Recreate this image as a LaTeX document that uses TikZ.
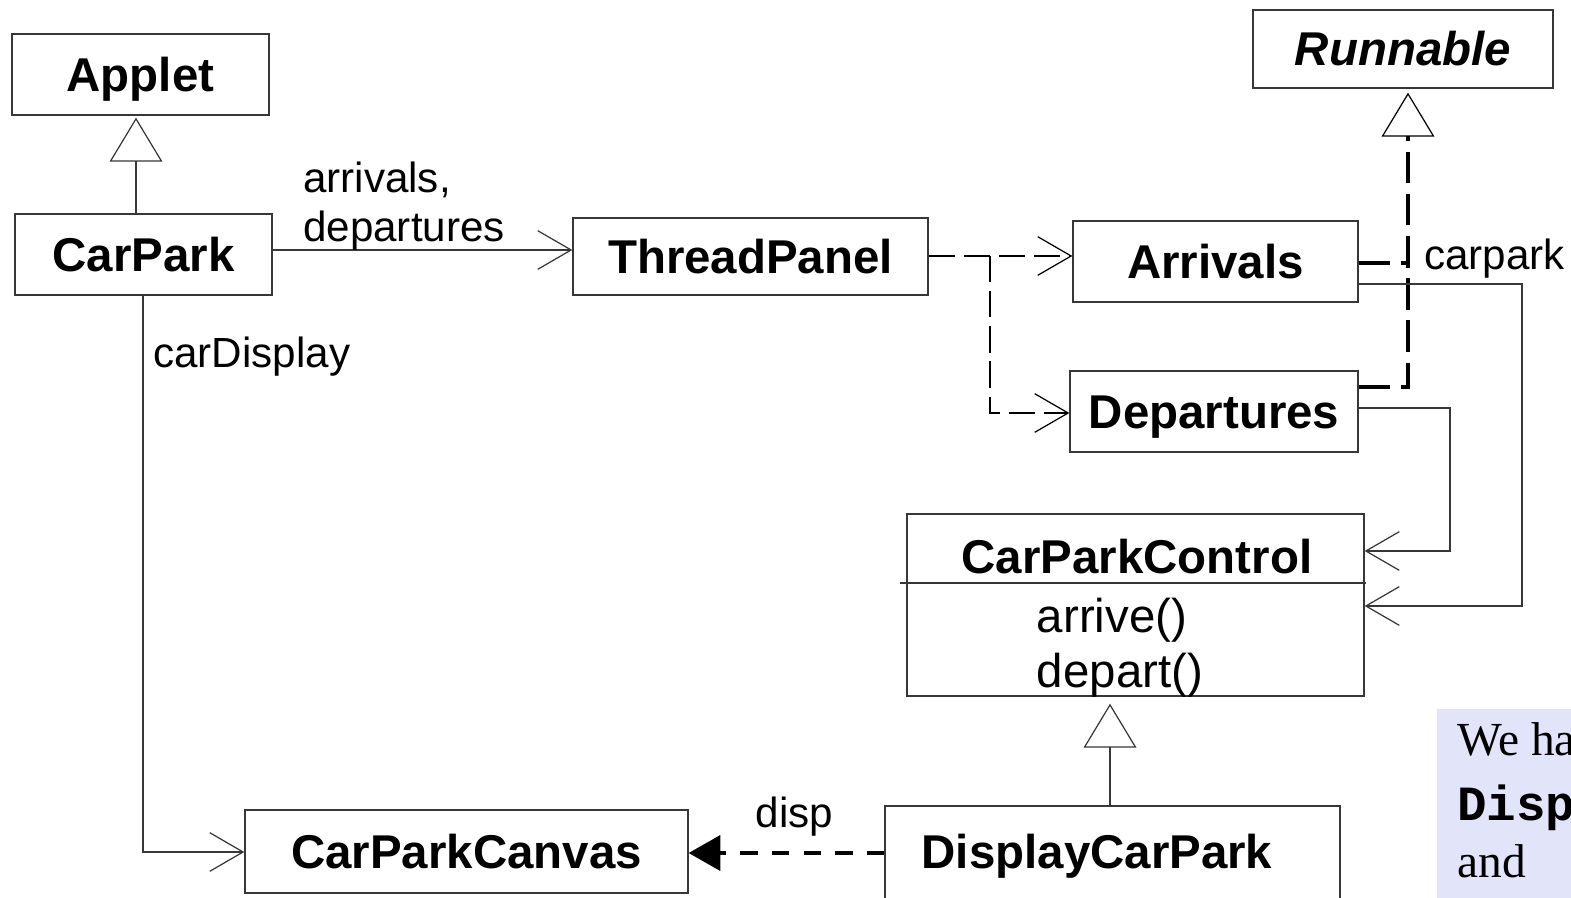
\documentclass[tikz,border=0pt]{standalone}
\usepackage{fontspec}
\setmainfont{Liberation Sans}
\newfontfamily\notefont{Liberation Serif}
\newfontfamily\notemono{Liberation Mono}
\usetikzlibrary{arrows.meta}
\definecolor{notebg}{RGB}{226,229,250}
\definecolor{linegray}{RGB}{55,55,55}
\tikzset{
  classbox/.style={draw=linegray, line width=0.8pt, inner sep=0pt, text height=19pt, text depth=0pt,
    font=\fontsize{27}{30}\selectfont\bfseries},
  lbl/.style={font=\fontsize{24}{28}\selectfont, inner sep=0pt},
  method/.style={font=\fontsize{27}{30}\selectfont, inner sep=0pt},
  assoc/.style={draw=linegray, line width=0.7pt, -{Straight Barb[length=19pt,width=22pt]}},
  inherit/.style={draw=linegray, line width=0.7pt, -{Triangle[open,length=25pt,width=30pt]}},
  depend/.style={line width=1.4pt, dash pattern=on 15pt off 5pt,
    -{Straight Barb[length=19pt,width=22pt,line width=0.7pt]}},
  realize/.style={line width=1.8pt, dash pattern=on 18pt off 6pt},
  notetext/.style={anchor=base west, inner sep=0pt, font=\fontsize{27}{30}\selectfont\notefont}
}
\begin{document}
\begin{tikzpicture}[x=0.02cm,y=-0.02cm]
  \useasboundingbox (0,0) rectangle (1571,898);
  \clip (0,0) rectangle (1571,898);

  \node[classbox, minimum width=5.14cm, minimum height=1.62cm] (Applet) at (140.5,74.5) {Applet};
  \node[classbox, minimum width=5.14cm, minimum height=1.62cm] (CarPark) at (143.5,254.5) {CarPark};
  \node[classbox, minimum width=7.1cm, minimum height=1.54cm] (ThreadPanel) at (750.5,256.5) {ThreadPanel};
  \node[classbox, minimum width=5.7cm, minimum height=1.62cm] (Arrivals) at (1215.5,261.5) {Arrivals};
  \node[classbox, minimum width=5.76cm, minimum height=1.62cm] (Departures) at (1214,411.5) {Departures};
  \node[classbox, minimum width=6cm, minimum height=1.56cm,
    font=\fontsize{27}{30}\selectfont\bfseries\itshape] (Runnable) at (1403,49) {Runnable};
  \node[classbox, minimum width=9.14cm, minimum height=3.64cm] (CarParkControl) at (1135.5,605) {};
  \node[classbox, draw=none] (ctrlTitle) at (1137,557) {CarParkControl};
  \draw[linegray, line width=0.7pt] (900,583) -- (1366,583);
  \node[method] (ctrlArrive) at (1112,620) {arrive()};
  \node[method] (ctrlDepart) at (1120,675) {depart()};
  \node[classbox, minimum width=8.86cm, minimum height=1.66cm] (CarParkCanvas) at (466.5,851.5) {CarParkCanvas};
  \node[classbox, minimum width=9.1cm, minimum height=1.88cm] (DisplayCarPark) at (1112.5,853) {};
  \node[classbox, draw=none] (displayTitle) at (1097,852) {DisplayCarPark};

  \draw[inherit, shorten >=0.04cm] (CarPark.north -| 136,0) -- (Applet.south -| 136,0);
  \draw[assoc] (CarPark.east |- 0,250) -- (ThreadPanel.west |- 0,250);
  \node[lbl, align=left] (assocLbl) at (404,206) {arrivals,\\departures};
  \draw[assoc] (CarPark.south -| 143,0) |- (CarParkCanvas.west |- 0,852);
  \node[lbl, anchor=west] (displayLbl) at (153,357) {carDisplay};

  \coordinate (fork) at (990,256);
  \draw[depend] (ThreadPanel.east |- fork) -- (Arrivals.west |- fork);
  \draw[depend] (fork) |- (Departures.west |- 0,413);

  \coordinate (rjoin) at (1408,263);
  \draw[realize] (Arrivals.east |- rjoin) -- (rjoin);
  \draw[realize, -{Triangle[open,length=25pt,width=30pt,line width=0.7pt]}, shorten >=0.08cm]
    (Departures.east |- 0,387) -| (Runnable.south -| rjoin);
  \node[lbl, anchor=west] (carparkLbl) at (1424,259) {carpark};

  \draw[assoc] (Arrivals.east |- 0,284) -| (1522,606) -- (CarParkControl.east |- 0,606);
  \draw[assoc] (Departures.east |- 0,408) -| (1450,551) -- (CarParkControl.east |- 0,551);

  \draw[inherit, shorten >=0.14cm] (DisplayCarPark.north -| 1110,0) -- (CarParkControl.south -| 1110,0);
  \draw[line width=1.8pt, dash pattern=on 10pt off 8pt, -{Triangle[length=18pt,width=20pt]}]
    (DisplayCarPark.west |- 0,853) -- (CarParkCanvas.east |- 0,853)
    node[lbl, pos=0.46, above=0.3cm] (dispLbl) {disp};

  \fill[notebg] (1437,709) rectangle (1580,905);
  \node[notetext] (noteA) at (1457,755) {We ha};
  \node[notetext, font=\fontsize{28}{30}\selectfont\notemono\bfseries] (noteB) at (1457,820) {Disp};
  \node[notetext] (noteC) at (1457,877) {and};
\end{tikzpicture}
\end{document}
